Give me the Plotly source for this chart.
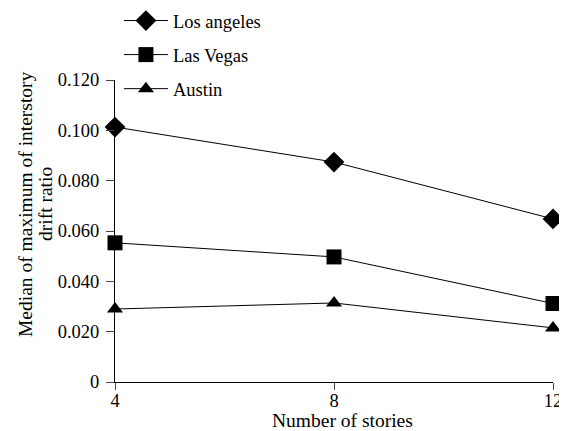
import plotly.graph_objects as go

stories = [4, 8, 12]
los_angeles = [0.1013, 0.0874, 0.0648]
las_vegas = [0.0553, 0.0497, 0.0312]
austin = [0.0290, 0.0314, 0.0215]
series_names = ["Los angeles", "Las Vegas", "Austin"]
y_ticks = [0, 0.02, 0.04, 0.06, 0.08, 0.10, 0.12]
y_tick_text = ["0", "0.020", "0.040", "0.060", "0.080", "0.100", "0.120"]
x_title = "Number of stories"
y_title_lines = ["Median of maximum of interstory", "drift ratio"]

symbols = ["diamond", "square", "triangle-up"]
sizes = [16, 15, 14]

fig = go.Figure()
for i, (name, vals) in enumerate(zip(series_names, [los_angeles, las_vegas, austin])):
    fig.add_trace(go.Scatter(
        x=stories, y=vals, name=name, mode="lines+markers",
        line=dict(color="black", width=1),
        marker=dict(symbol=symbols[i], size=sizes[i], color="black"),
        cliponaxis=False, legendgroup=name,
    ))

FAM = "Liberation Serif"
TICK, LEG, TIT = 18.5, 18.5, 19.5
W, H = 559, 423          # page body has an 8px margin
T, B, L, R = 0, 49, 107, 14
plot_h = H - T - B
plot_w = W - L - R
top_frac = (H - B - 72) / plot_h

# axis titles as annotations (positioned in paper coordinates)
fig.add_annotation(text=x_title, xref="paper", yref="paper",
                   x=(334 - L) / plot_w, y=(plot_h - 412) / plot_h,
                   xanchor="center", yanchor="middle", showarrow=False,
                   font=dict(family=FAM, size=TIT, color="black"))
for px, line in zip([17, 37], y_title_lines):
    fig.add_annotation(text=line, xref="paper", yref="paper",
                       x=(px - L) / plot_w, y=(plot_h - 196) / plot_h,
                       xanchor="center", yanchor="middle", textangle=-90,
                       showarrow=False,
                       font=dict(family=FAM, size=TIT, color="black"))

fig.update_layout(
    width=W, height=H,
    margin=dict(l=L, r=R, t=T, b=B, autoexpand=False),
    paper_bgcolor="white", plot_bgcolor="white",
    font=dict(family=FAM, size=TICK, color="black"),
    showlegend=True,
    legend=dict(x=0.009, y=1.016, xanchor="left", yanchor="top",
                font=dict(family=FAM, size=LEG, color="black"),
                tracegroupgap=7, traceorder="grouped",
                bgcolor="rgba(0,0,0,0)", itemwidth=44),
    xaxis=dict(range=[4, 12], tickvals=stories, ticks="outside", ticklen=7,
               ticklabelstandoff=-5,
               showline=True, linecolor="black", linewidth=1, showgrid=False,
               zeroline=False, automargin=False,
               tickfont=dict(family=FAM, size=TICK, color="black")),
    yaxis=dict(range=[0, 0.12], tickvals=y_ticks, ticktext=y_tick_text,
               domain=[0, top_frac], automargin=False, ticklabelstandoff=3,
               ticks="outside", ticklen=8, showline=True, linecolor="black",
               linewidth=1, showgrid=False, zeroline=False,
               tickfont=dict(family=FAM, size=TICK, color="black")),
)

fig.write_html("out.html")
